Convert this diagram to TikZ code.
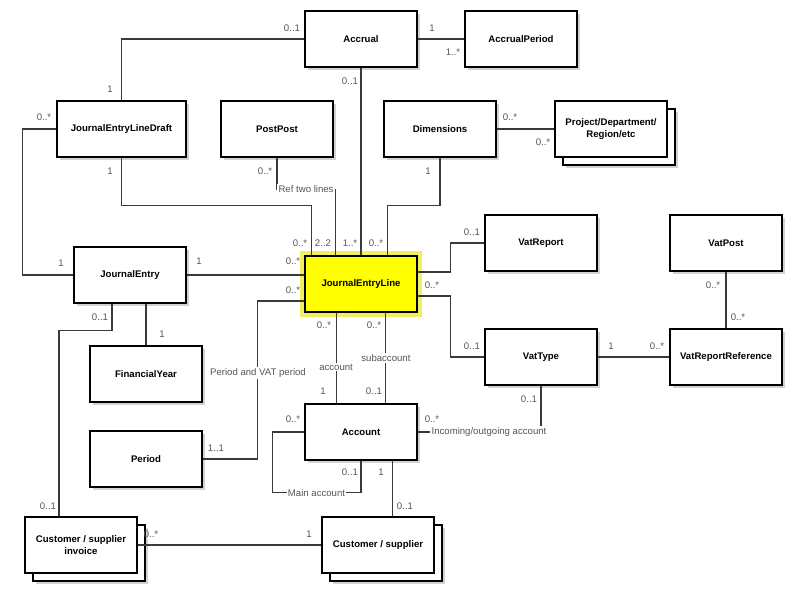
\documentclass[tikz,border=0pt]{standalone}
\usepackage{fontspec}
\setmainfont{Liberation Sans}
\usetikzlibrary{calc,shadows}
\definecolor{UMLLine}{HTML}{3A3A3A}
\definecolor{UMLLabel}{HTML}{555555}
\definecolor{UMLShadow}{HTML}{D2D2D2}
\definecolor{UMLYellow}{HTML}{FFFF00}
\definecolor{UMLGlow}{HTML}{F0F060}

\begin{document}
\begin{tikzpicture}[x=0.75pt, y=-0.75pt,
  box/.style={rectangle, draw=black, line width=1.4pt, fill=white,
              minimum width=84pt, minimum height=42pt, inner sep=1pt,
              font=\fontsize{7.2}{8.6}\selectfont\bfseries, align=center},
  cls/.style={box, drop shadow={shadow xshift=2.2pt, shadow yshift=-2.2pt,
                                fill=UMLShadow, opacity=1}},
  multi/.style={box,
                drop shadow={shadow xshift=8.2pt, shadow yshift=-8.2pt,
                             fill=UMLShadow, opacity=1},
                copy shadow={shadow xshift=6pt, shadow yshift=-6pt,
                             fill=white, draw=black, line width=1.4pt}},
  hilite/.style={box, fill=UMLYellow, preaction={draw=UMLGlow, line width=7pt}},
  lbl/.style={font=\fontsize{7.2}{8.6}\selectfont, text=UMLLabel, inner sep=1pt},
  elbl/.style={lbl, fill=white},
  conn/.style={draw=UMLLine, line width=0.8pt}
]
  \path[use as bounding box, fill=white] (0,0) rectangle (800,591);

  \node[cls]    (accrual)  at (361,39)  {Accrual};
  \node[cls]    (accper)   at (521,39)  {AccrualPeriod};
  \node[cls, minimum width=97pt] (jeld) at (121.5,129) {JournalEntryLineDraft};
  \node[cls]    (postpost) at (277,129) {PostPost};
  \node[cls]    (dims)     at (440,129) {Dimensions};
  \node[multi]  (proj)     at (611,129) {Project/Department/\\Region/etc};
  \node[cls]    (je)       at (130,275) {JournalEntry};
  \node[hilite] (jel)      at (361,284) {JournalEntryLine};
  \node[cls]    (vatrep)   at (541,243) {VatReport};
  \node[cls]    (vatpost)  at (726,243) {VatPost};
  \node[cls]    (vattype)  at (541,357) {VatType};
  \node[cls]    (vatref)   at (726,357) {VatReportReference};
  \node[cls]    (finyear)  at (146,374) {FinancialYear};
  \node[cls]    (period)   at (146,459) {Period};
  \node[cls]    (account)  at (361,432) {Account};
  \node[multi]  (csinv)    at (81,545)  {Customer / supplier\\invoice};
  \node[multi]  (cs)       at (378,545) {Customer / supplier};
  \coordinate (acsTop) at ($(account.south east)+(-25,0)$);

  \draw[conn] (accrual.west) -| (jeld.north);
  \draw[conn] (accrual) -- (accper);
  \draw[conn] (accrual) -- (jel);
  \draw[conn] (jeld.south) -- ++(0,48) -| ($(jel.north west)+(7,0)$);
  \draw[conn] (postpost.south) |- node[elbl, pos=0.75] (reflbl) {Ref two lines}
              ($(jel.north west)+(31,-66)$) -- ($(jel.north west)+(31,0)$);
  \draw[conn] (dims.south) -- ++(0,48) -| ($(jel.north east)+(-30,0)$);
  \draw[conn] (dims) -- (proj);
  \draw[conn] (jeld.west) -- ++(-33,0) |- (je.west);
  \draw[conn] (je.east) -- (je.east -| jel.west);
  \draw[conn] (finyear.north) -- (finyear.north |- je.south);
  \draw[conn] ($(je.south)+(-18,0)$) -- ++(0,27) -| ($(csinv.north)+(-22,0)$);
  \draw[conn] ($(jel.west)+(0,17)$) -- ++(-47,0) |- (period.east);
  \draw[conn] ($(jel.south west)+(32,0)$) -- node[elbl, pos=0.6] (acclbl) {account}
              ($(account.north west)+(32,0)$);
  \draw[conn] ($(jel.south east)+(-32,0)$) -- node[elbl, pos=0.5] (sublbl) {subaccount}
              ($(account.north east)+(-32,0)$);
  \draw[conn] ($(jel.east)+(0,-12)$) -- ++(33,0) |- (vatrep.west);
  \draw[conn] ($(jel.east)+(0,12)$) -- ++(33,0) |- (vattype.west);
  \draw[conn] (vattype) -- (vatref);
  \draw[conn] (vatpost) -- (vatref);
  \draw[conn] (vattype.south) |- (account.east);
  \draw[conn] (account.west) -- ++(-32,0) |- node[elbl, pos=0.75] (mainlbl) {Main account}
              ($(account.south)+(0,32)$) -- (account.south);
  \draw[conn] (acsTop) -- (acsTop |- cs.north);
  \draw[conn] (csinv) -- (cs);

  \node[elbl] (pvlbl) at (258,373) {Period and VAT period};
  \node[elbl] (iolbl) at (489,432) {Incoming/outgoing account};

  \node[lbl] (l01) at (292,28)  {0..1};
  \node[lbl] (l02) at (110,89)  {1};
  \node[lbl] (l03) at (432,28)  {1};
  \node[lbl] (l04) at (453,52)  {1..*};
  \node[lbl] (l05) at (350,81)  {0..1};
  \node[lbl] (l06) at (350,243) {1..*};
  \node[lbl] (l07) at (110,171) {1};
  \node[lbl] (l08) at (300,243) {0..*};
  \node[lbl] (l09) at (265,171) {0..*};
  \node[lbl] (l10) at (323,243) {2..2};
  \node[lbl] (l11) at (428,171) {1};
  \node[lbl] (l12) at (376,243) {0..*};
  \node[lbl] (l13) at (510,117) {0..*};
  \node[lbl] (l14) at (543,142) {0..*};
  \node[lbl] (l15) at (44,117)  {0..*};
  \node[lbl] (l16) at (61,263)  {1};
  \node[lbl] (l17) at (199,261) {1};
  \node[lbl] (l18) at (293,261) {0..*};
  \node[lbl] (l19) at (162,334) {1};
  \node[lbl] (l20) at (100,317) {0..1};
  \node[lbl] (l21) at (48,506)  {0..1};
  \node[lbl] (l22) at (293,290) {0..*};
  \node[lbl] (l23) at (216,448) {1..1};
  \node[lbl] (l24) at (324,325) {0..*};
  \node[lbl] (l25) at (323,391) {1};
  \node[lbl] (l26) at (374,325) {0..*};
  \node[lbl] (l27) at (374,391) {0..1};
  \node[lbl] (l28) at (472,232) {0..1};
  \node[lbl] (l29) at (432,285) {0..*};
  \node[lbl] (l30) at (472,346) {0..1};
  \node[lbl] (l31) at (611,346) {1};
  \node[lbl] (l32) at (657,346) {0..*};
  \node[lbl] (l33) at (713,285) {0..*};
  \node[lbl] (l34) at (738,317) {0..*};
  \node[lbl] (l35) at (529,399) {0..1};
  \node[lbl] (l36) at (432,419) {0..*};
  \node[lbl] (l37) at (293,419) {0..*};
  \node[lbl] (l38) at (350,472) {0..1};
  \node[lbl] (l39) at (381,472) {1};
  \node[lbl] (l40) at (405,506) {0..1};
  \node[lbl] (l41) at (151,534) {0..*};
  \node[lbl] (l42) at (309,534) {1};
\end{tikzpicture}
\end{document}
